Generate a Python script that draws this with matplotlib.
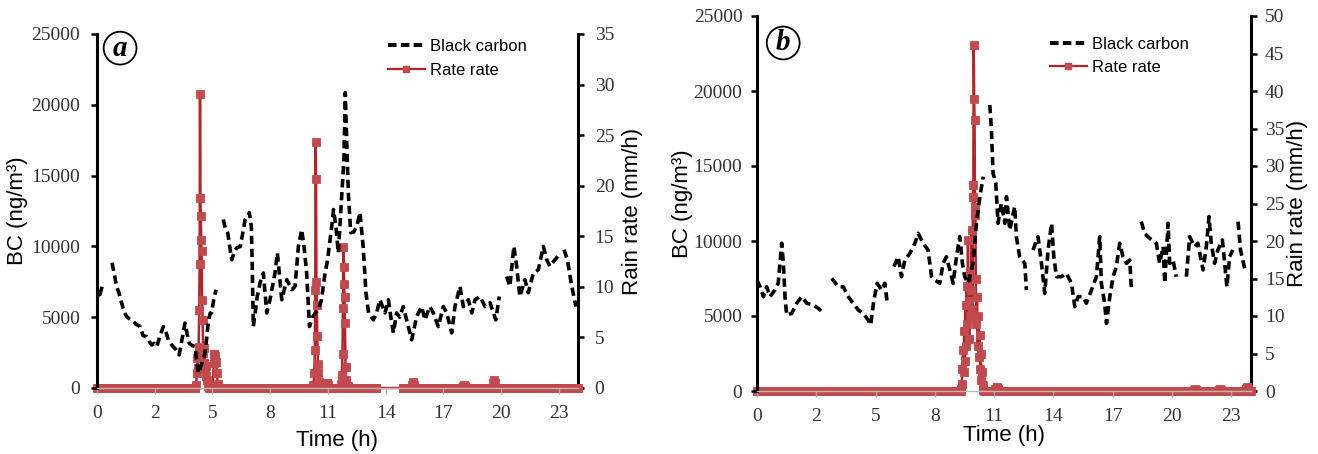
import numpy as np
import matplotlib
matplotlib.use("Agg")
import matplotlib.pyplot as plt
from matplotlib.lines import Line2D

nan = np.nan

# ---------------------------------------------------------------- data
tick_labels = ["0", "2", "5", "8", "11", "14", "17", "20", "23"]
TICK_STEP = 2.88          # hours between labelled ticks
RAIN_STEP = 1.0 / 30.0    # rain gauge logging interval (2 min)

# (a) black carbon, hours / ng m-3 (nan = missing record)
a_bc_t = [0.00, 0.08, 0.15, 0.25, 0.50, 0.75, 0.98, 1.10, 1.23, 1.35, 1.48, 1.60,
          1.81, 1.95, 2.15, 2.30, 2.48, 2.60, 2.73, 2.85, 2.98, 3.15, 3.31, 3.45,
          3.56, 3.70, 3.80, 3.95, 4.10, 4.25, 4.39, 4.50, 4.60, 4.75, 4.89, 4.98,
          5.06, 5.20, 5.39, 5.47, 5.55, 5.65, 5.72, 5.83, 5.94, 6.10, 6.30, 6.40,
          6.52, 6.62, 6.72, 6.85, 6.97, 7.15, 7.28, 7.39, 7.50, 7.60, 7.70, 7.74,
          7.77, 7.80, 8.00, 8.15, 8.30, 8.47, 8.63, 8.88, 9.00, 9.22, 9.47, 9.72,
          9.88, 10.05, 10.21, 10.33, 10.46, 10.60, 10.75, 10.90, 11.05, 11.20, 11.38, 11.50,
          11.63, 11.72, 11.80, 11.92, 12.04, 12.18, 12.32, 12.39, 12.46, 12.54, 12.66, 12.80,
          12.96, 13.12, 13.28, 13.42, 13.55, 13.79, 13.95, 14.12, 14.37, 14.54, 14.66, 14.79,
          14.95, 15.10, 15.28, 15.45, 15.70, 15.95, 16.20, 16.36, 16.60, 16.78, 17.03, 17.28,
          17.45, 17.70, 17.86, 18.11, 18.28, 18.53, 18.70, 18.86, 19.11, 19.36, 19.61, 19.90,
          20.07, 20.25, 20.44, 20.60, 20.80, 20.94, 21.10, 21.35, 21.52, 21.77, 22.02, 22.27,
          22.44, 22.60, 22.85, 23.00, 23.15, 23.30, 23.47, 23.69, 23.90]
a_bc_v = [6300, 6900, 6600, 7150, nan, 8850, 7170, 6700, 6000, 5400, 5050, 4900,
          4700, 4500, 4340, 3700, 3630, 3300, 3040, 3150, 2920, 3700, 4340, 3900,
          3400, 3100, 2920, 2700, 2340, 3500, 4580, 3800, 3160, 3000, 2920, 1800,
          1040, 1600, 2480, 3500, 4600, 5300, 5300, 6300, 6940, nan, 11900, 11300,
          10970, 10000, 9060, 9600, 9900, 10000, 11000, 11900, 12100, 12390, 11420, 9060,
          6730, 4340, 6500, 7500, 8120, 5300, 6230, 8120, 9540, 6230, 7650, 6940,
          7170, 10000, 11190, 10000, 8120, 4340, 5000, 5300, 5520, 6230, 8120, 9000,
          10480, 11500, 12600, 11420, 9540, 12830, 16140, 20860, 17350, 13800, 10970, 11000,
          11420, 12390, 10000, 6730, 5300, 4810, 5300, 6230, 5300, 6230, 5000, 3890,
          5300, 5000, 5750, 4810, 3400, 5050, 5750, 4810, 5750, 5300, 4340, 5750,
          5300, 3890, 5750, 7170, 5750, 6230, 5300, 6230, 6460, 5750, 6020, 4810,
          6460, nan, 7880, 7170, 10000, 8590, 6460, 7650, 6730, 8120, 8350, 10000,
          9060, 8590, 9060, 9300, nan, 9770, 9060, 7170, 5750]

# (a) rain rate, mm/h (non-zero readings only; all other readings are 0)
a_rain_t = [4.95, 4.98, 5.01, 5.04, 5.07, 5.10, 5.12, 5.14, 5.16, 5.18, 5.20, 5.22,
            5.24, 5.27, 5.30, 5.33, 5.36, 5.39, 5.42, 5.46, 5.50, 5.55,
            5.78, 5.82, 5.86, 5.90, 5.94, 5.98, 6.02,
            10.80, 10.84, 10.87, 10.89, 10.91, 10.93, 10.95, 10.97, 10.99, 11.02, 11.05, 11.10, 11.15,
            11.40, 11.46, 11.52,
            12.18, 12.22, 12.25, 12.27, 12.29, 12.31, 12.33, 12.35, 12.37, 12.40, 12.44, 12.50,
            15.72, 15.78, 15.84,
            18.25, 18.30, 18.35,
            19.74, 19.80, 19.86]
a_rain_v = [0.3, 1.5, 3.0, 2.0, 4.1, 7.7, 12.3, 29.1, 18.8, 17.0, 14.6, 13.5,
            8.7, 6.7, 3.5, 2.5, 4.0, 2.0, 1.2, 2.2, 0.8, 0.2,
            0.3, 2.5, 3.4, 3.2, 2.6, 1.5, 0.4,
            0.3, 1.5, 3.8, 9.7, 24.3, 20.7, 10.5, 8.2, 5.1, 2.4, 1.5, 0.6, 0.2,
            0.3, 0.5, 0.3,
            0.4, 1.3, 3.4, 7.9, 13.9, 12.0, 10.3, 9.0, 6.4, 2.1, 0.8, 0.2,
            0.3, 0.6, 0.3,
            0.2, 0.3, 0.2,
            0.5, 0.8, 0.5]
a_rain_spans = [(0.0, 13.95), (15.25, 24.0)]

# (b) black carbon
b_bc_t = [0.00, 0.15, 0.31, 0.47, 0.63, 0.87, 1.03, 1.20, 1.28, 1.36, 1.44, 1.69,
          1.93, 2.17, 2.42, 2.74, 2.98, 3.25, 3.45, 3.63, 3.95, 4.19, 4.43, 4.67,
          4.92, 5.16, 5.40, 5.52, 5.68, 5.84, 6.05, 6.21, 6.33, 6.50, 6.65, 6.86,
          7.02, 7.18, 7.43, 7.67, 7.83, 8.07, 8.31, 8.48, 8.64, 8.88, 9.04, 9.20,
          9.37, 9.53, 9.69, 9.85, 9.98, 10.09, 10.26, 10.50, 10.66, 10.83, 10.99, 11.15,
          11.31, 11.39, 11.47, 11.60, 11.71, 11.87, 12.04, 12.12, 12.28, 12.52, 12.60, 12.76,
          13.01, 13.09, 13.25, 13.41, 13.65, 13.82, 13.98, 14.14, 14.31, 14.42, 14.55, 14.79,
          15.03, 15.28, 15.44, 15.60, 15.84, 16.00, 16.25, 16.49, 16.65, 16.73, 16.89, 16.98,
          17.14, 17.30, 17.46, 17.62, 17.78, 17.95, 18.11, 18.19, 18.45, 18.67, 18.83, 19.08,
          19.40, 19.56, 19.73, 19.81, 19.97, 20.05, 20.21, 20.37, 20.60, 20.86, 21.02, 21.26,
          21.42, 21.67, 21.83, 21.96, 22.07, 22.23, 22.39, 22.61, 22.72, 22.83, 22.96, 23.12,
          23.25, 23.37, 23.49, 23.69]
b_bc_v = [7400, 6950, 6290, 6950, 6290, 6730, 7180, 9850, 8510, 6290, 5070, 5180,
          5850, 6290, 5850, 5730, 5510, 5180, nan, 7510, 6950, 6950, 6290, 5850,
          5400, 5180, 4730, 4400, 6070, 7180, 6730, 7180, 5850, nan, 8290, 8950,
          7620, 8730, 9180, 9850, 10510, 9850, 9400, 7620, 7400, 7180, 8510, 8950,
          8070, 7180, 8950, 10290, 8510, 7620, 7180, 8510, 11180, 12950, 14290, nan,
          19070, 17400, 14510, 13850, 11180, 12510, 11180, 12950, 10730, 12290, 10290, 8950,
          8510, 6730, nan, 9400, 10290, 8510, 6510, 9400, 11180, 8950, 7620, 7620,
          7850, 7180, 5620, 6290, 6290, 5850, 6730, 7620, 10290, 7180, 5850, 4510,
          6290, 7620, 8290, 9850, 8950, 8510, 8730, 6730, nan, 11290, 10510, 10180,
          9850, 8510, 9620, 7180, 11180, 8510, 8730, 7620, nan, 7620, 10290, 9620,
          9850, 8070, 9620, 11620, 9850, 8510, 9400, 10070, 8510, 6950, 8950, 9400,
          nan, 11290, 9400, 8180]

# (b) rain rate
b_rain_t = [9.92, 9.95, 9.98, 10.01, 10.04, 10.07, 10.10, 10.13, 10.16, 10.19, 10.22, 10.25,
            10.28, 10.31, 10.34, 10.37, 10.40, 10.43, 10.46, 10.49, 10.51, 10.53, 10.55, 10.57,
            10.59, 10.61, 10.63, 10.66, 10.69, 10.72, 10.75, 10.78, 10.81, 10.84, 10.87, 10.90,
            10.93, 10.96, 10.99,
            11.58, 11.64, 11.70,
            21.25, 21.30, 21.35,
            22.45, 22.50, 22.55,
            23.75, 23.80, 23.85]
b_rain_v = [0.3, 1.0, 3.0, 5.5, 2.5, 8.0, 4.0, 11.5, 6.0, 14.0, 9.0, 20.1,
            12.0, 7.0, 16.0, 10.0, 13.5, 21.5, 11.0, 25.9, 27.5, 46.1, 39.0, 36.2,
            24.6, 23.5, 15.0, 9.0, 12.5, 6.0, 10.0, 4.5, 7.5, 3.0, 5.0, 1.5,
            2.5, 0.8, 0.2,
            0.3, 0.5, 0.3,
            0.2, 0.3, 0.2,
            0.2, 0.3, 0.2,
            0.3, 0.5, 0.3]
b_rain_spans = [(0.0, 24.0)]

# ---------------------------------------------------------------- style
plt.rcParams["font.family"] = ["Liberation Sans", "DejaVu Sans"]
SERIF = ["Liberation Serif", "DejaVu Serif"]
BC_COLOR = "black"
RAIN_LINE = "#B5232A"
RAIN_MARK = "#C24A4D"
TICK_COLOR = "#333333"


def rain_series(spans, ev_t, ev_v):
    """Zero readings on the logging grid, with the non-zero readings merged in."""
    ev_t = np.asarray(ev_t, float)
    ev_v = np.asarray(ev_v, float)
    # group consecutive non-zero readings into showers
    breaks = np.where(np.diff(ev_t) > 0.1)[0] + 1
    groups = np.split(np.arange(len(ev_t)), breaks)
    windows = [(ev_t[g[0]] - RAIN_STEP / 2, ev_t[g[-1]] + RAIN_STEP / 2) for g in groups]
    ts, vs = [], []
    for s, e in spans:
        grid = np.arange(s, e + 1e-9, RAIN_STEP)
        keep = np.ones(len(grid), bool)
        for w0, w1 in windows:
            keep &= ~((grid >= w0) & (grid <= w1))
        ts.append(grid[keep])
        vs.append(np.zeros(keep.sum()))
    ts.append(ev_t)
    vs.append(ev_v)
    t = np.concatenate(ts)
    v = np.concatenate(vs)
    order = np.argsort(t)
    return t[order], v[order]


def draw_panel(rect, bc_t, bc_v, rain_spans, rain_t, rain_v, rain_max,
               letter, letter_xy, legend_xy, ylab_x, ylab2_x, xlab_y,
               pad_l, pad_r):
    ax = fig.add_axes(rect)
    ax2 = ax.twinx()
    ax.set_zorder(ax2.get_zorder() + 1)
    ax.patch.set_visible(False)

    t, v = rain_series(rain_spans, rain_t, rain_v)
    ax2.plot(t, v, color=RAIN_LINE, lw=1.8, marker="s", ms=5.2,
             mfc=RAIN_MARK, mec=RAIN_MARK, mew=0.6, clip_on=False, zorder=3)
    ax.plot(bc_t, bc_v, color=BC_COLOR, lw=2.6, dashes=(2.3, 1.3), zorder=4)

    ax.set_xlim(0, 24)
    ax.set_ylim(0, 25000)
    ax2.set_ylim(0, rain_max)
    ax.set_yticks(np.arange(0, 25001, 5000))
    ax2.set_yticks(np.arange(0, rain_max + 0.1, 5))
    ax.set_xticks(np.arange(len(tick_labels)) * TICK_STEP)
    ax.set_xticklabels(tick_labels)

    for a in (ax, ax2):
        a.spines["top"].set_visible(False)
    ax.spines["right"].set_visible(False)
    ax2.spines["left"].set_visible(False)
    ax2.spines["bottom"].set_visible(False)
    ax.spines["left"].set_linewidth(2.2)
    ax2.spines["right"].set_linewidth(2.2)
    ax.spines["bottom"].set_color("#BBBBBB")
    ax.spines["bottom"].set_linewidth(1.0)

    ax.tick_params(axis="y", direction="out", length=4, width=1.8, color="black",
                   labelsize=14, labelcolor=TICK_COLOR, pad=pad_l)
    ax2.tick_params(axis="y", direction="out", length=4, width=1.8, color="black",
                    labelsize=14, labelcolor=TICK_COLOR, pad=pad_r)
    ax.tick_params(axis="x", direction="out", length=4, width=1.0, color="#AAAAAA",
                   labelsize=14, labelcolor=TICK_COLOR, pad=8)
    for lab in ax.get_xticklabels() + ax.get_yticklabels() + ax2.get_yticklabels():
        lab.set_family(SERIF)

    ax.set_ylabel("BC (ng/m³)", fontsize=16, va="center")
    ax.yaxis.set_label_coords(ylab_x, 0.5)
    ax2.set_ylabel("Rain rate (mm/h)", fontsize=16, va="center", rotation=90)
    ax2.yaxis.set_label_coords(ylab2_x, 0.5)
    ax.set_xlabel("Time (h)", fontsize=16, va="center")
    ax.xaxis.set_label_coords(0.5, xlab_y)

    ax.text(letter_xy[0], letter_xy[1], letter, transform=ax.transAxes,
            family=SERIF, fontsize=21, fontweight="bold", fontstyle="italic",
            ha="center", va="center", zorder=10,
            bbox=dict(boxstyle="circle,pad=0.1", fc="white", ec="black", lw=1.3))

    handles = [
        Line2D([], [], color=BC_COLOR, lw=2.8, dashes=(2.2, 1.1)),
        Line2D([], [], color=RAIN_LINE, lw=1.6, marker="s", ms=4.5,
               mfc=RAIN_MARK, mec=RAIN_MARK),
    ]
    ax.legend(handles, ["Black carbon", "Rate rate"], loc="upper left",
              bbox_to_anchor=legend_xy, frameon=False, fontsize=12,
              handlelength=2.2, handletextpad=0.3, labelspacing=0.5,
              borderpad=0, borderaxespad=0, numpoints=1)
    return ax, ax2


fig = plt.figure(figsize=(13.18, 4.54), dpi=100)
fig.patch.set_facecolor("white")

draw_panel([97 / 1318, 1 - 388 / 454, 481 / 1318, 354 / 454],
           a_bc_t, a_bc_v, a_rain_spans, a_rain_t, a_rain_v, 35,
           "a", (0.048, 0.96), (0.605, 0.985),
           -0.165, 1.114, -0.147, 8, 8)
draw_panel([757 / 1318, 1 - 391 / 454, 494 / 1318, 375 / 454],
           b_bc_t, b_bc_v, b_rain_spans, b_rain_t, b_rain_v, 50,
           "b", (0.053, 0.928), (0.593, 0.945),
           -0.15, 1.095, -0.12, 6.5, 6)

fig.savefig("out.png", dpi=100)
